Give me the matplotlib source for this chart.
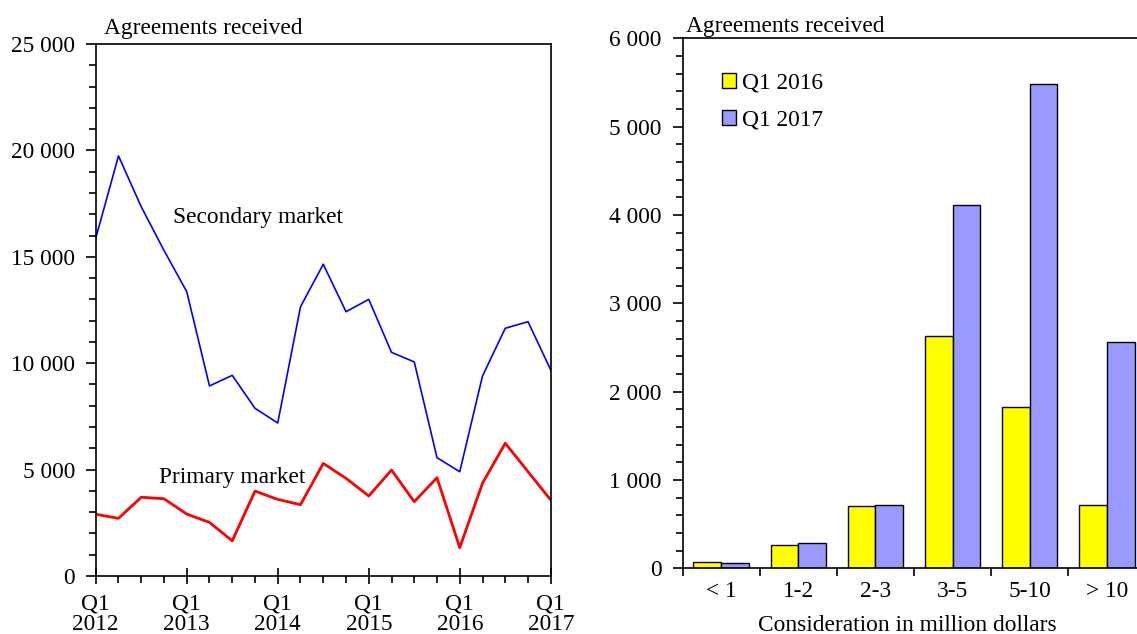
import matplotlib.pyplot as plt
from matplotlib.ticker import MultipleLocator, FuncFormatter, FixedLocator
import numpy as np

plt.rcParams['font.family'] = ['Liberation Serif', 'DejaVu Serif']
plt.rcParams['font.size'] = 16.8

# left chart: agreements received per quarter, Q1 2012 .. Q1 2017
quarters = np.arange(21)
secondary = [15870, 19740, 17350, 15300, 13360, 8930, 9430, 7880, 7190, 12650,
             14650, 12420, 13000, 10510, 10060, 5560, 4900, 9400, 11640, 11950, 9680]
primary = [2900, 2710, 3700, 3630, 2910, 2520, 1650, 3990, 3600, 3350,
           5290, 4590, 3760, 4980, 3490, 4620, 1330, 4360, 6240, 4900, 3570]
year_ticks = [0, 4, 8, 12, 16, 20]
year_labels = ['Q1\n2012', 'Q1\n2013', 'Q1\n2014', 'Q1\n2015', 'Q1\n2016', 'Q1\n2017']

# right chart: agreements by consideration band
bands = ['< 1', '1-2', '2-3', '3-5', '5-10', '> 10']
q1_2016 = [68, 267, 705, 2633, 1823, 717]
q1_2017 = [55, 283, 712, 4113, 5483, 2562]

fmt = FuncFormatter(lambda v, p: f'{v:,.0f}'.replace(',', ' '))

fig = plt.figure(figsize=(11.37, 6.34), dpi=100)

# ---- left
ax1 = fig.add_axes([0.0842, 0.0915, 0.4002, 0.8391])
ax1.plot(quarters, secondary, color='#0000ff', lw=1.2)
ax1.plot(quarters, primary, color='#ff0000', lw=2.0)
ax1.set_xlim(0, 20)
ax1.set_ylim(0, 25000)
ax1.yaxis.set_major_locator(MultipleLocator(5000))
ax1.yaxis.set_minor_locator(MultipleLocator(1000))
ax1.yaxis.set_major_formatter(fmt)
ax1.set_xticks(year_ticks)
ax1.set_xticklabels(year_labels, linespacing=0.95)
ax1.xaxis.set_minor_locator(MultipleLocator(1))
ax1.tick_params(axis='y', which='major', length=7, width=1.2, pad=8)
ax1.tick_params(axis='y', which='minor', length=5, width=1.2)
ax1.tick_params(axis='x', which='major', direction='inout', length=11, width=1.2, pad=7)
ax1.tick_params(axis='x', which='minor', length=5, width=1.2)
for s in ax1.spines.values():
    s.set_linewidth(1.2)
ax1.text(3.41, 16574, 'Secondary market', va='baseline')
ax1.text(2.80, 4385, 'Primary market', va='baseline')
ax1.text(0.018, 1.018, 'Agreements received', transform=ax1.transAxes, va='baseline')

# ---- right
ax2 = fig.add_axes([0.6004, 0.1036, 0.4069, 0.8360])
x = np.arange(len(bands))
w = 0.36
ax2.bar(x - w / 2, q1_2016, w, color='#ffff00', edgecolor='black', lw=1.0, label='Q1 2016')
ax2.bar(x + w / 2, q1_2017, w, color='#9999ff', edgecolor='black', lw=1.0, label='Q1 2017')
ax2.set_xlim(-0.5, 5.5)
ax2.set_ylim(0, 6000)
ax2.yaxis.set_major_locator(MultipleLocator(1000))
ax2.yaxis.set_minor_locator(MultipleLocator(200))
ax2.yaxis.set_major_formatter(fmt)
ax2.set_xticks(x)
ax2.set_xticklabels(bands)
ax2.xaxis.set_minor_locator(FixedLocator(np.arange(-0.5, 6, 1)))
ax2.tick_params(axis='y', which='major', length=7, width=1.2, pad=8)
ax2.tick_params(axis='y', which='minor', length=5, width=1.2)
ax2.tick_params(axis='x', which='major', length=0, pad=9)
ax2.tick_params(axis='x', which='minor', length=6, width=1.2)
for s in ax2.spines.values():
    s.set_linewidth(1.2)
ax2.set_xlabel('Consideration in million dollars')
ax2.xaxis.set_label_coords(0.485, -0.088)
ax2.text(0.007, 1.0125, 'Agreements received', transform=ax2.transAxes, va='baseline')
ax2.legend(loc='upper left', bbox_to_anchor=(0.085, 0.935), frameon=False,
           handlelength=0.6, handleheight=0.6, handletextpad=0.25,
           labelspacing=0.68, borderpad=0, borderaxespad=0)

fig.savefig('out.png', dpi=100)
